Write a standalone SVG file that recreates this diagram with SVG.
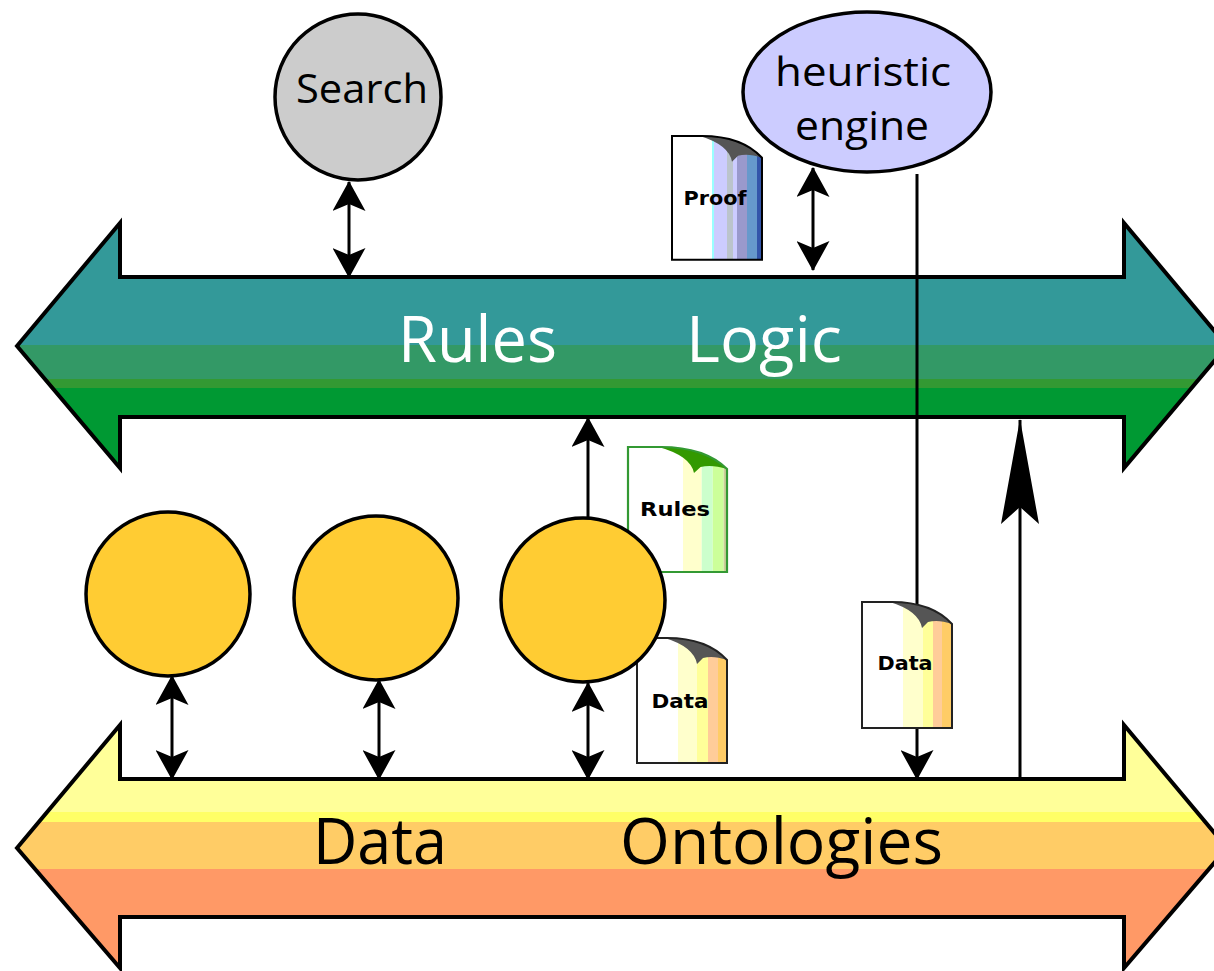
<svg xmlns="http://www.w3.org/2000/svg" width="1214" height="971" viewBox="0 0 1214 971">
<defs>
<style>
.band{stroke:#000;stroke-width:4;stroke-linejoin:miter}
.con{stroke:#000;stroke-width:3;fill:none}
.node{stroke:#000;stroke-width:3.5}
.big{font-family:"Open Sans","Liberation Sans",sans-serif;font-size:64px}
.lbl{font-family:"Open Sans","Liberation Sans",sans-serif;font-size:40px;fill:#000}
.doc{font-family:"DejaVu Sans","Liberation Sans",sans-serif;font-size:20px;font-weight:bold;fill:#000}
</style>
<linearGradient id="gTop" gradientUnits="userSpaceOnUse" x1="0" y1="223" x2="0" y2="468">
<stop offset="0" stop-color="#339999"/><stop offset="0.498" stop-color="#339999"/>
<stop offset="0.498" stop-color="#339966"/><stop offset="0.637" stop-color="#339966"/>
<stop offset="0.637" stop-color="#339933"/><stop offset="0.673" stop-color="#339933"/>
<stop offset="0.673" stop-color="#009933"/><stop offset="1" stop-color="#009933"/>
</linearGradient>
<linearGradient id="gBot" gradientUnits="userSpaceOnUse" x1="0" y1="725" x2="0" y2="968">
<stop offset="0" stop-color="#FFFF99"/><stop offset="0.358" stop-color="#FFFF99"/>
<stop offset="0.358" stop-color="#FFFF66"/><stop offset="0.399" stop-color="#FFFF66"/>
<stop offset="0.399" stop-color="#FFCC66"/><stop offset="0.593" stop-color="#FFCC66"/>
<stop offset="0.593" stop-color="#FF9966"/><stop offset="1" stop-color="#FF9966"/>
</linearGradient>
<clipPath id="page"><path d="M0,0 H30 Q70,0 90,22 V125 H0 Z"/></clipPath>
<marker id="ah" markerUnits="userSpaceOnUse" viewBox="0 0 30 33" markerWidth="30" markerHeight="33" refX="29" refY="16.5" orient="auto-start-reverse">
<path d="M0,0 L30,16.5 L0,33 L7,16.5 Z" fill="#000"/>
</marker>
<marker id="ahLong" markerUnits="userSpaceOnUse" viewBox="0 0 105 38" markerWidth="105" markerHeight="38" refX="104" refY="19" orient="auto">
<path d="M0,0 L105,19 L0,38 L17,19 Z" fill="#000"/>
</marker>
</defs>
<rect width="1214" height="971" fill="#fff"/>

<g id="band-rules-logic">
<path class="band" fill="url(#gTop)" d="M17,346 L120,223 L120,277 L1124,277 L1124,223 L1227,346 L1124,468 L1124,417 L120,417 L120,468 Z"/>
<text class="big" fill="#fff" x="398" y="362" textLength="159" lengthAdjust="spacingAndGlyphs">Rules</text>
<text class="big" fill="#fff" x="686" y="362" textLength="156" lengthAdjust="spacingAndGlyphs">Logic</text>
</g>
<g id="band-data-ontologies">
<path class="band" fill="url(#gBot)" d="M17,848 L120,725 L120,779 L1124,779 L1124,725 L1227,848 L1124,968 L1124,917 L120,917 L120,968 Z"/>
<text class="big" fill="#000" x="313" y="864" textLength="134" lengthAdjust="spacingAndGlyphs">Data</text>
<text class="big" fill="#000" x="620" y="864" textLength="323" lengthAdjust="spacingAndGlyphs">Ontologies</text>
</g>

<g id="connectors">
<line class="con" x1="349" y1="182" x2="349" y2="277" marker-start="url(#ah)" marker-end="url(#ah)"/>
<line class="con" x1="813" y1="168" x2="813" y2="270" marker-start="url(#ah)" marker-end="url(#ah)"/>
<line class="con" x1="172" y1="676" x2="172" y2="779" marker-start="url(#ah)" marker-end="url(#ah)"/>
<line class="con" x1="379" y1="680" x2="379" y2="779" marker-start="url(#ah)" marker-end="url(#ah)"/>
<line class="con" x1="588" y1="683" x2="588" y2="779" marker-start="url(#ah)" marker-end="url(#ah)"/>
<line class="con" x1="588" y1="518" x2="588" y2="418" marker-end="url(#ah)"/>
<line class="con" x1="917" y1="174" x2="917" y2="779" marker-end="url(#ah)"/>
<line class="con" x1="1020" y1="779" x2="1020" y2="420" marker-end="url(#ahLong)"/>
</g>

<g id="doc-proof">
<g transform="translate(672,136) scale(1,0.99)">
<g clip-path="url(#page)">
<rect x="0" y="0" width="90" height="125" fill="#fff"/>
<rect x="40" y="0" width="2" height="125" fill="#99FFFF"/>
<rect x="42" y="0" width="13" height="125" fill="#CCCCFF"/>
<rect x="55" y="0" width="6" height="125" fill="#BBC4CC"/>
<rect x="61" y="0" width="4" height="125" fill="#CCCCFF"/>
<rect x="65" y="0" width="10" height="125" fill="#9999CC"/>
<rect x="75" y="0" width="10" height="125" fill="#6699CC"/>
<rect x="85" y="0" width="5" height="125" fill="#3355AA"/>
</g>
<path d="M28,0 Q70,0 90,22 Q76,17 66,20 L60,26 Q57,9 28,0 Z" fill="#555"/>
<path d="M0,0 H30 Q70,0 90,22 V125 H0 Z" fill="none" stroke="#000" stroke-width="2"/>
</g>
<text class="doc" x="715" y="205" text-anchor="middle" textLength="63" lengthAdjust="spacingAndGlyphs">Proof</text>
</g>

<g id="doc-rules">
<g transform="translate(628,447) scale(1.1,1)">
<g clip-path="url(#page)">
<rect x="0" y="0" width="90" height="125" fill="#fff"/>
<rect x="50" y="0" width="17" height="125" fill="#FFFFCC"/>
<rect x="67" y="0" width="10" height="125" fill="#CCFFCC"/>
<rect x="77" y="0" width="10" height="125" fill="#CCFF99"/>
<rect x="87" y="0" width="3" height="125" fill="#CCCC99"/>
</g>
<path d="M28,0 Q70,0 90,22 Q76,17 66,20 L60,26 Q57,9 28,0 Z" fill="#339900"/>
<path d="M0,0 H30 Q70,0 90,22 V125 H0 Z" fill="none" stroke="#339933" stroke-width="2"/>
</g>
<text class="doc" x="675" y="516" text-anchor="middle" textLength="70" lengthAdjust="spacingAndGlyphs">Rules</text>
</g>

<g id="doc-data-1">
<g transform="translate(637,638)">
<g clip-path="url(#page)">
<rect x="0" y="0" width="90" height="125" fill="#fff"/>
<rect x="41" y="0" width="19" height="125" fill="#FFFFCC"/>
<rect x="60" y="0" width="11" height="125" fill="#FFFF99"/>
<rect x="71" y="0" width="10" height="125" fill="#FFCC99"/>
<rect x="81" y="0" width="9" height="125" fill="#FFCC66"/>
</g>
<path d="M28,0 Q70,0 90,22 Q76,17 66,20 L60,26 Q57,9 28,0 Z" fill="#555"/>
<path d="M0,0 H30 Q70,0 90,22 V125 H0 Z" fill="none" stroke="#222" stroke-width="2"/>
</g>
<text class="doc" x="680" y="708" text-anchor="middle" textLength="57" lengthAdjust="spacingAndGlyphs">Data</text>
</g>

<g id="doc-data-2">
<g transform="translate(862,602)">
<g clip-path="url(#page)">
<rect x="0" y="0" width="90" height="126" fill="#fff"/>
<rect x="41" y="0" width="20" height="126" fill="#FFFFCC"/>
<rect x="61" y="0" width="10" height="126" fill="#FFFF99"/>
<rect x="71" y="0" width="9" height="126" fill="#FFCC99"/>
<rect x="80" y="0" width="10" height="126" fill="#FFCC66"/>
</g>
<path d="M28,0 Q70,0 90,22 Q76,17 66,20 L60,26 Q57,9 28,0 Z" fill="#555"/>
<path d="M0,0 H30 Q70,0 90,22 V126 H0 Z" fill="none" stroke="#222" stroke-width="2"/>
</g>
<text class="doc" x="905" y="670" text-anchor="middle" textLength="55" lengthAdjust="spacingAndGlyphs">Data</text>
</g>

<g id="node-search">
<circle class="node" cx="358" cy="97" r="83" fill="#CCCCCC"/>
<text class="lbl" x="362" y="103" text-anchor="middle" textLength="132" lengthAdjust="spacingAndGlyphs">Search</text>
</g>
<g id="node-heuristic">
<ellipse class="node" cx="867" cy="92" rx="124" ry="80" fill="#CCCCFF"/>
<text class="lbl" x="863" y="86" text-anchor="middle" textLength="176" lengthAdjust="spacingAndGlyphs">heuristic</text>
<text class="lbl" x="862" y="140" text-anchor="middle" textLength="134" lengthAdjust="spacingAndGlyphs">engine</text>
</g>
<g id="node-c1"><circle class="node" cx="168" cy="594" r="82" fill="#FFCC33"/></g>
<g id="node-c2"><circle class="node" cx="376" cy="598" r="82" fill="#FFCC33"/></g>
<g id="node-c3"><circle class="node" cx="583" cy="600" r="82" fill="#FFCC33"/></g>
</svg>
